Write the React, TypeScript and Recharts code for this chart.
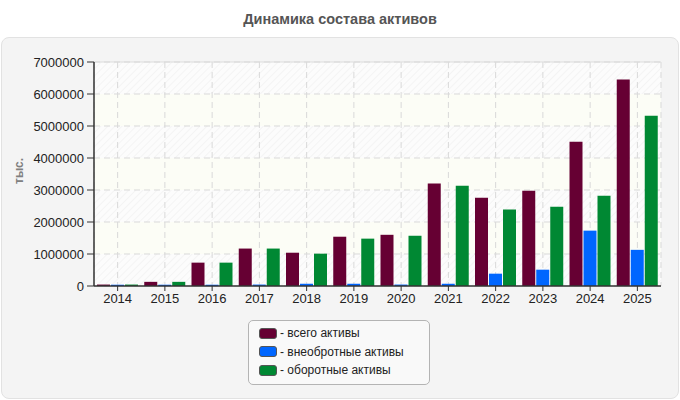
import React from 'react';
import { BarChart, Bar, XAxis, YAxis, CartesianGrid, ReferenceLine } from 'recharts';

const YEARS = ['2014', '2015', '2016', '2017', '2018', '2019', '2020', '2021', '2022', '2023', '2024', '2025'];
const TOTAL = [45000, 130000, 730000, 1170000, 1040000, 1540000, 1600000, 3200000, 2760000, 2980000, 4510000, 6450000];
const NON_CURRENT = [40000, 40000, 40000, 45000, 70000, 70000, 45000, 70000, 385000, 510000, 1730000, 1130000];
const CURRENT = [45000, 130000, 730000, 1170000, 1010000, 1480000, 1570000, 3130000, 2390000, 2480000, 2820000, 5320000];
const Y_TICKS = [0, 1000000, 2000000, 3000000, 4000000, 5000000, 6000000, 7000000];

const SERIES = [
  { key: 'total', name: 'всего активы', color: '#660033' },
  { key: 'nonCurrent', name: 'внеобротные активы', color: '#0066ff' },
  { key: 'current', name: 'оборотные активы', color: '#008833' },
];

const data = YEARS.map((year, i) => ({
  year,
  total: TOTAL[i],
  nonCurrent: NON_CURRENT[i],
  current: CURRENT[i],
}));

const FONT = '"Liberation Sans", Arial, sans-serif';

function LegendBox() {
  return (
    <div
      style={{
        position: 'absolute',
        left: 248,
        top: 320,
        width: 182,
        border: '1px solid #b4b4b4',
        borderRadius: 5,
        background: '#f9f9f9',
        padding: '3px 0 4px 10px',
        boxSizing: 'border-box',
        fontFamily: FONT,
        fontSize: 12,
        color: '#222',
      }}
    >
      {SERIES.map((s) => (
        <div key={s.key} style={{ display: 'flex', alignItems: 'center', height: 18.5 }}>
          <span
            style={{
              display: 'inline-block',
              width: 16,
              height: 9,
              background: s.color,
              border: '1px solid #555',
              borderRadius: 3,
              marginRight: 3,
            }}
          />
          <span>- {s.name}</span>
        </div>
      ))}
    </div>
  );
}

export default function App() {
  return (
    <div
      style={{
        position: 'fixed',
        left: 0,
        top: 0,
        width: 680,
        height: 400,
        background: '#fff',
        fontFamily: FONT,
      }}
    >
      <div
        style={{
          position: 'absolute',
          left: 0,
          top: 11,
          width: 680,
          textAlign: 'center',
          fontSize: 14.5,
          fontWeight: 'bold',
          color: '#555',
        }}
      >
        Динамика состава активов
      </div>
      {/* panel */}
      <div
        style={{
          position: 'absolute',
          left: 1,
          top: 37,
          width: 676,
          height: 360,
          background: '#f4f4f4',
          border: '1px solid #e2e2e2',
          borderRadius: 8,
        }}
      />
      <div
        style={{
          position: 'absolute',
          left: 12,
          top: 164,
          width: 20,
          height: 20,
          transform: 'rotate(-90deg)',
          fontSize: 12,
          fontWeight: 'bold',
          color: '#808080',
          whiteSpace: 'nowrap',
        }}
      >
        тыс.
      </div>
      <div style={{ position: 'absolute', left: 0, top: 0 }}>
        <BarChart
          width={680}
          height={400}
          data={data}
          margin={{ top: 62, right: 19, bottom: 84, left: 10 }}
          barSize={13}
          barGap={1}
          barCategoryGap={3}
        >
          <defs>
            <pattern id="hatch" width="5" height="5" patternUnits="userSpaceOnUse" patternTransform="rotate(45)">
              <rect width="5" height="5" fill="#fcfcfc" />
              <line x1="0" y1="0" x2="0" y2="5" stroke="#f2f2f2" strokeWidth="1.5" />
            </pattern>
          </defs>
          <CartesianGrid
            stroke="#d9d9d9"
            strokeDasharray="6 4"
            horizontalFill={['url(#hatch)', '#fcfdf6']}
            fillOpacity={1}
          />
          <ReferenceLine y={7000000} stroke="#dcdcdc" strokeDasharray="0" ifOverflow="extendDomain" />
          <XAxis
            dataKey="year"
            tick={{ fontSize: 13, fill: '#222' }}
            tickLine={{ stroke: '#333' }}
            axisLine={{ stroke: '#333', strokeWidth: 1.5 }}
            tickSize={5}
            tickMargin={3}
            height={30}
          />
          <YAxis
            domain={[0, 7000000]}
            ticks={Y_TICKS}
            interval={0}
            tick={{ fontSize: 13, fill: '#222' }}
            tickLine={{ stroke: '#333' }}
            axisLine={{ stroke: '#333', strokeWidth: 1.5 }}
            tickSize={7}
            tickMargin={3}
            width={84}
          />
          <YAxis
            yAxisId="right"
            orientation="right"
            domain={[0, 7000000]}
            tick={false}
            tickLine={false}
            axisLine={{ stroke: '#dcdcdc' }}
            width={0}
          />
          {SERIES.map((s) => (
            <Bar key={s.key} dataKey={s.key} name={s.name} fill={s.color} isAnimationActive={false} />
          ))}
        </BarChart>
      </div>
      <LegendBox />
    </div>
  );
}
